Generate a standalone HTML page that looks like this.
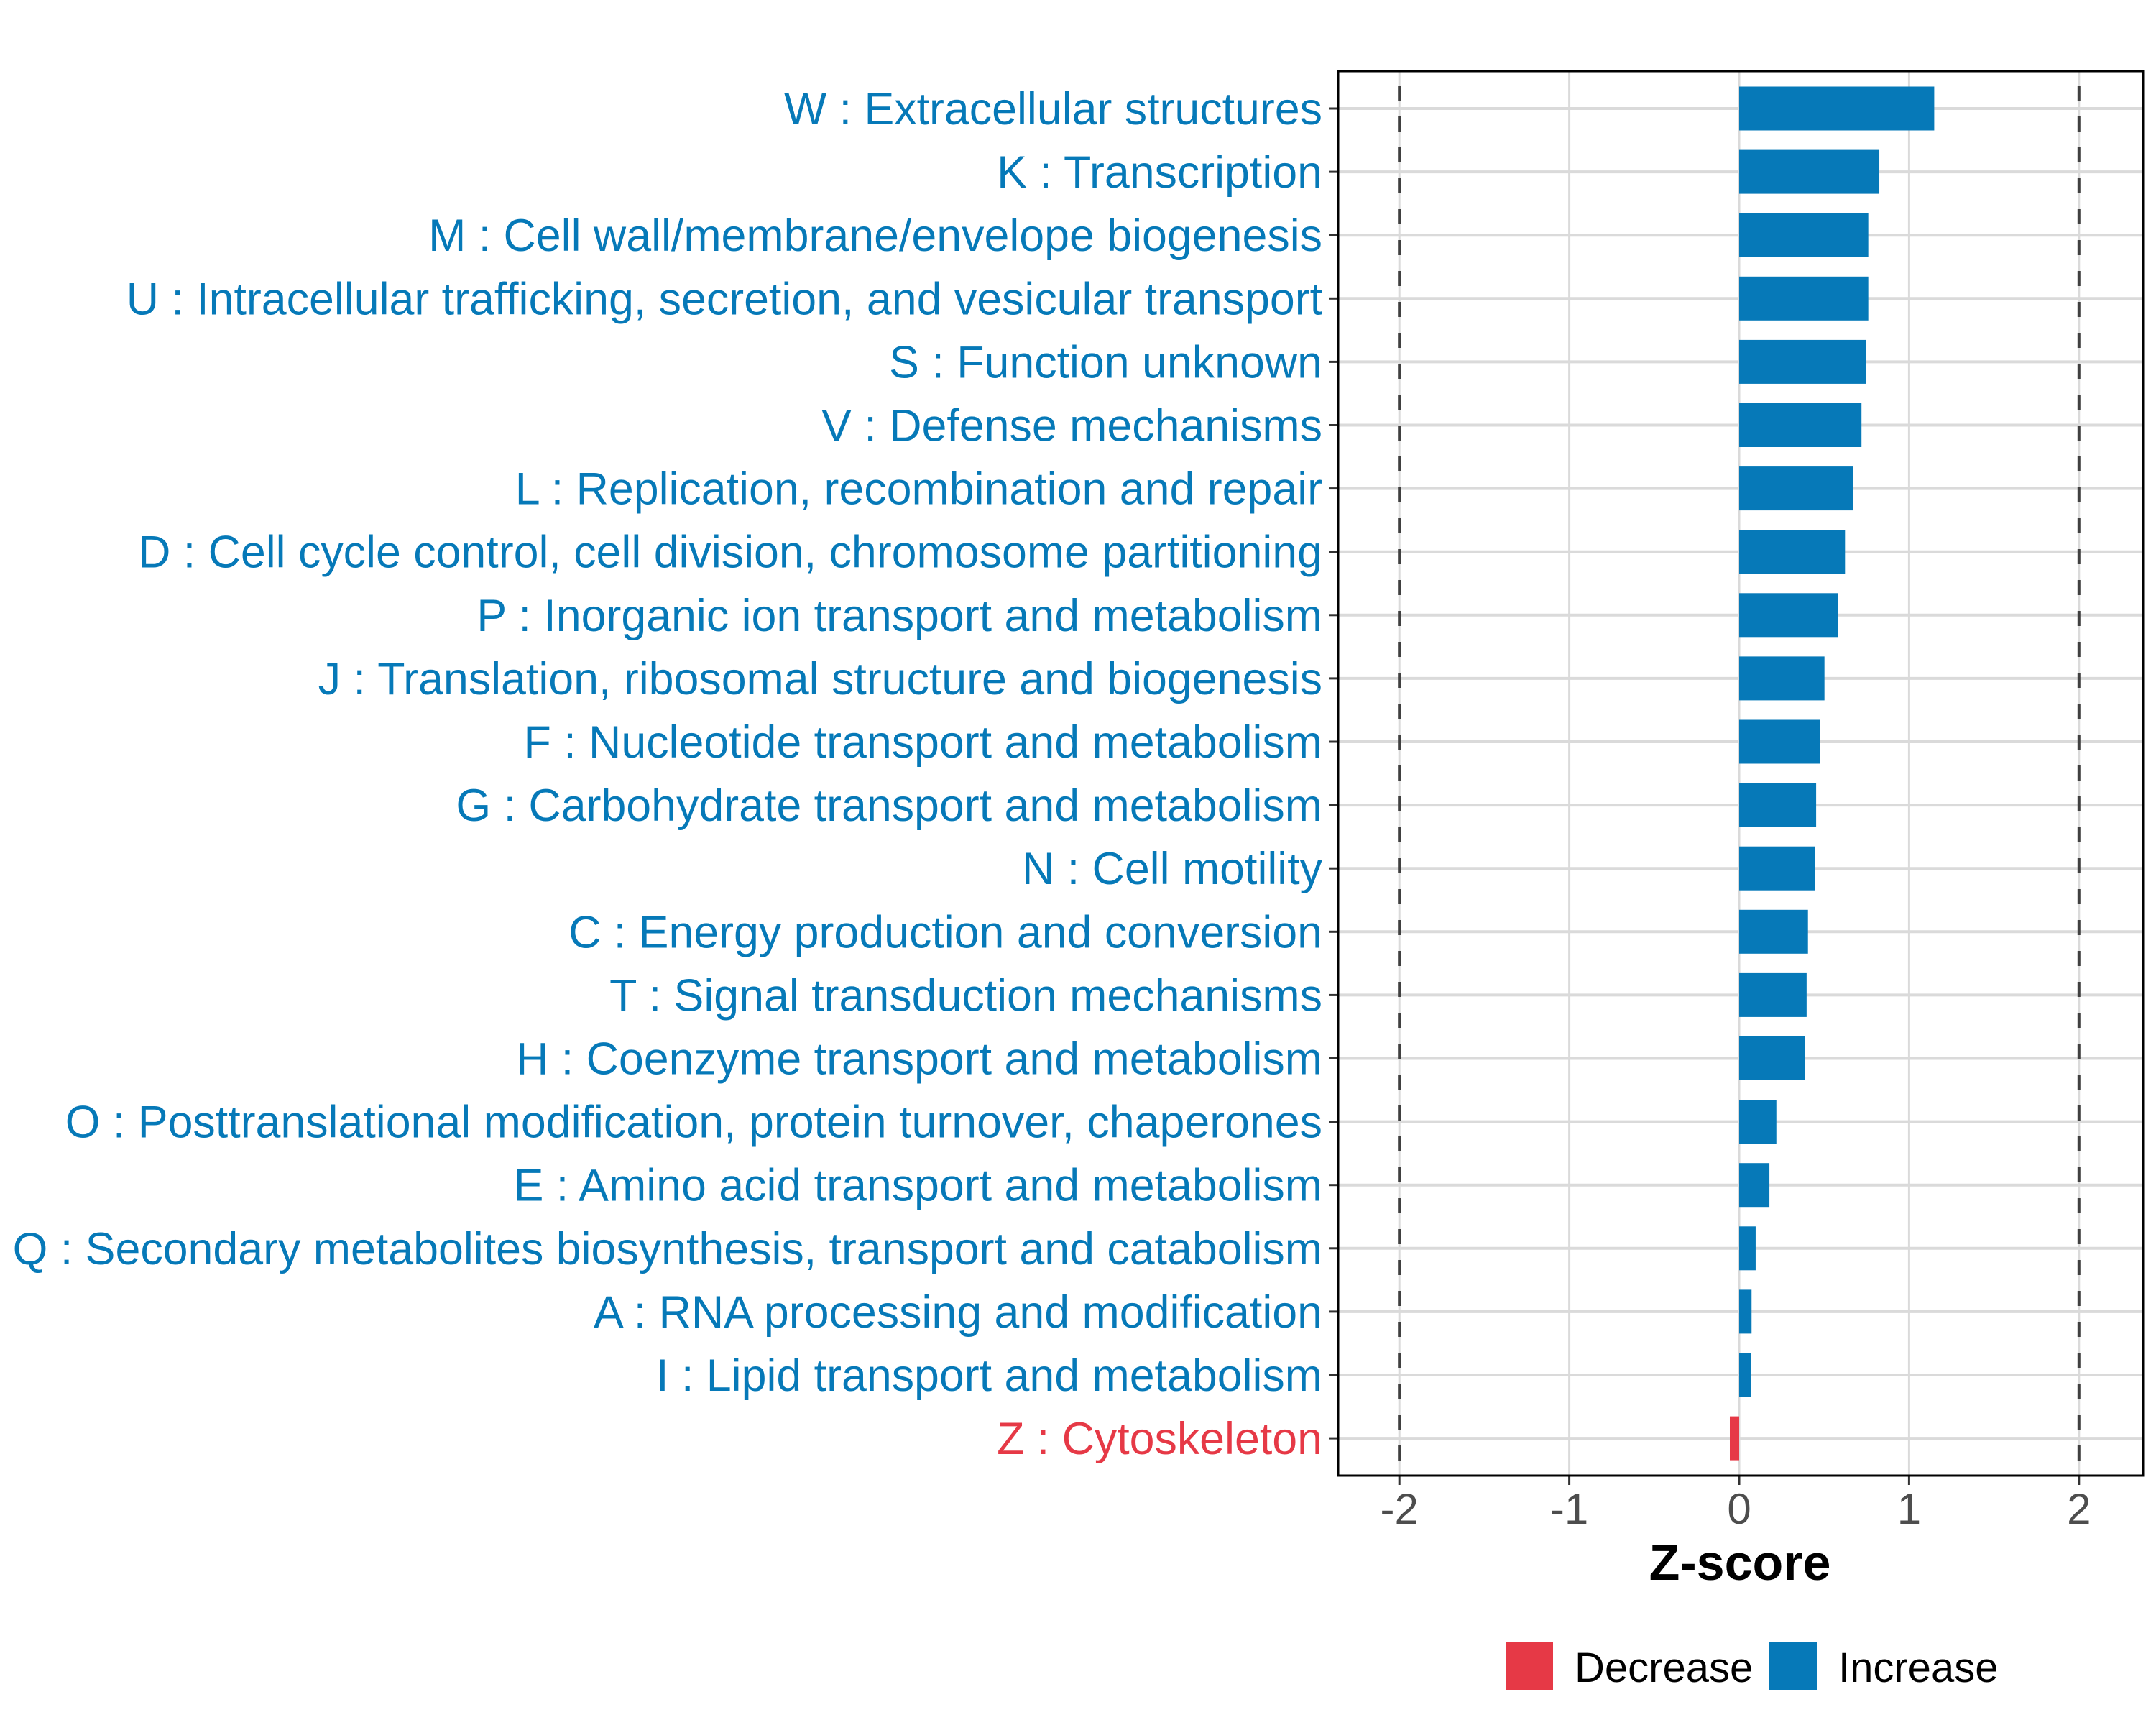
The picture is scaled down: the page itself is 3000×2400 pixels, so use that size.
<!DOCTYPE html>
<html><head><meta charset="utf-8"><style>
html,body{margin:0;padding:0;background:#fff;}
svg{display:block;font-family:"Liberation Sans",Arial,sans-serif;}
</style></head><body>
<svg id="chart" width="3000" height="2400" viewBox="0 0 3000 2400" xmlns="http://www.w3.org/2000/svg">
<rect x="0" y="0" width="3000" height="2400" fill="#fff"/>
<g id="grid"></g>
<g id="bars"></g>
<g id="ylabels"></g>
<g id="xaxis"></g>
<rect x="1862" y="99" width="1120" height="1954" fill="none" stroke="#000" stroke-width="3"/>
<text x="2421" y="2198" text-anchor="middle" font-size="70" font-weight="bold" fill="#000">Z-score</text>
<g>
<rect x="2095" y="2285" width="66" height="66" fill="#E63946"/>
<text x="2191" y="2340" font-size="58" fill="#000">Decrease</text>
<rect x="2462" y="2285" width="66" height="66" fill="#0679B8"/>
<text x="2558" y="2340" font-size="58" fill="#000">Increase</text>
</g>
</svg>
<script>
const categories = ["W : Extracellular structures","K : Transcription","M : Cell wall/membrane/envelope biogenesis","U : Intracellular trafficking, secretion, and vesicular transport","S : Function unknown","V : Defense mechanisms","L : Replication, recombination and repair","D : Cell cycle control, cell division, chromosome partitioning","P : Inorganic ion transport and metabolism","J : Translation, ribosomal structure and biogenesis","F : Nucleotide transport and metabolism","G : Carbohydrate transport and metabolism","N : Cell motility","C : Energy production and conversion","T : Signal transduction mechanisms","H : Coenzyme transport and metabolism","O : Posttranslational modification, protein turnover, chaperones","E : Amino acid transport and metabolism","Q : Secondary metabolites biosynthesis, transport and catabolism","A : RNA processing and modification","I : Lipid transport and metabolism","Z : Cytoskeleton"];
const zscores = [1.148,0.825,0.76,0.76,0.745,0.72,0.672,0.623,0.583,0.502,0.478,0.453,0.445,0.405,0.397,0.389,0.219,0.178,0.097,0.073,0.068,-0.055];
const xTicks = [-2,-1,0,1,2];
const xTickLabels = ["-2","-1","0","1","2"];
const thresholds = [-2,2];

const NS="http://www.w3.org/2000/svg";
const L=1862,R=2982,T=99,B=2053;
const x0=2420, unit=236.4;
function xs(v){return x0+v*unit;}
const rowStart=151, rowStep=88.1;
function ys(i){return rowStart+i*rowStep;}
const BLUE="#0679B8", RED="#E63946";
function mk(tag,attrs,parent){const e=document.createElementNS(NS,tag);for(const k in attrs)e.setAttribute(k,attrs[k]);parent.appendChild(e);return e;}
const grid=document.getElementById('grid'),bars=document.getElementById('bars'),yl=document.getElementById('ylabels'),xa=document.getElementById('xaxis');
xTicks.forEach((t,i)=>{
  const g=mk('line',{x1:xs(t),x2:xs(t),y1:T,y2:B,stroke:'#dadada','stroke-width':3},grid);
  
  
  const tk=mk('line',{x1:xs(t),x2:xs(t),y1:B,y2:B+13,stroke:'#333','stroke-width':3},xa);
  
  
  const lb=mk('text',{x:xs(t),y:2120,'text-anchor':'middle','font-size':60,fill:'#4d4d4d'},xa);
  lb.textContent=xTickLabels[i];
  
  
});
categories.forEach((c,i)=>{
  const y=ys(i);
  const g=mk('line',{x1:L,x2:R,y1:y,y2:y,stroke:'#dadada','stroke-width':4},grid);
  
  
  const tk=mk('line',{x1:L-13,x2:L,y1:y,y2:y,stroke:'#333','stroke-width':3},yl);
  
  
  const v=zscores[i];
  const col=v<0?RED:BLUE;
  const lb=mk('text',{x:1840,y:y+22,'text-anchor':'end','font-size':62.7,fill:col},yl);
  lb.textContent=c;
  
  
  const h=61;
  const b=mk('rect',{x:Math.min(xs(0),xs(v)),y:y-h/2,width:Math.abs(xs(v)-xs(0)),height:h,fill:col},bars);
  
  
});
thresholds.forEach(t=>{
  const d=mk('line',{x1:xs(t),x2:xs(t),y1:T,y2:B,stroke:'#404040','stroke-width':4,'stroke-dasharray':'21 22','stroke-dashoffset':'-20'},grid);
  
  
});
</script>
</body></html>
